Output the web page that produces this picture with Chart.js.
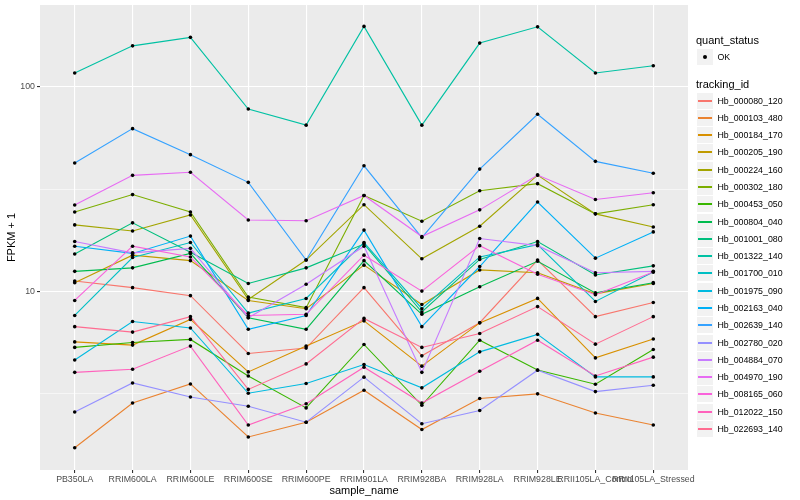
<!DOCTYPE html>
<html><head><meta charset="utf-8">
<script src="https://cdn.jsdelivr.net/npm/chart.js@4/dist/chart.umd.min.js"></script>
<style>
html,body{margin:0;padding:0;background:#fff;}
#wrap{position:relative;width:800px;height:500px;overflow:hidden;}
canvas{position:absolute;left:0;top:0;}
#legend{position:absolute;left:696px;top:0;width:104px;height:500px;font-family:"Liberation Sans",Arial,sans-serif;color:#000;}
.ttl{position:absolute;left:0;font-size:11px;line-height:13px;white-space:nowrap;}
.row{position:absolute;left:1px;height:17px;width:103px;}
.key{position:absolute;left:0;top:0;width:16px;height:16px;background:#F2F2F2;}
.ln{position:absolute;left:1px;right:1px;top:7px;height:1.5px;}
.dot{position:absolute;left:6px;top:6px;width:4px;height:4px;border-radius:50%;background:#000;}
.lab{position:absolute;left:20.5px;top:0;line-height:16px;font-size:8.8px;white-space:nowrap;}
</style></head>
<body><div id="wrap"><canvas id="c" width="800" height="500"></canvas><div id="legend"></div></div>
<script>
// ---- data ----
const categories = ["PB350LA","RRIM600LA","RRIM600LE","RRIM600SE","RRIM600PE","RRIM901LA","RRIM928BA","RRIM928LA","RRIM928LE","RRII105LA_Control","RRII105LA_Stressed"];
const trackingIds = ["Hb_000080_120","Hb_000103_480","Hb_000184_170","Hb_000205_190","Hb_000224_160","Hb_000302_180","Hb_000453_050","Hb_000804_040","Hb_001001_080","Hb_001322_140","Hb_001700_010","Hb_001975_090","Hb_002163_040","Hb_002639_140","Hb_002780_020","Hb_004884_070","Hb_004970_190","Hb_008165_060","Hb_012022_150","Hb_022693_140"];
const seriesColors = ["#F8766D","#EA8331","#D89000","#C09B00","#A3A500","#7CAE00","#39B600","#00BB4E","#00BF7D","#00C1A3","#00BFC4","#00BAE0","#00B0F6","#35A2FF","#9590FF","#C77CFF","#E76BF3","#FA62DB","#FF62BC","#FF6C91"];

const Hb_000080_120 = [11.2, 10.4, 9.5, 4.95, 5.26, 10.4, 4.82, 7.0, 14.2, 7.5, 8.8];
const Hb_000103_480 = [1.71, 2.83, 3.51, 1.93, 2.28, 3.27, 2.10, 2.98, 3.14, 2.53, 2.21];
const Hb_000184_170 = [5.64, 5.44, 7.27, 4.02, 5.38, 7.15, 4.29, 6.99, 9.21, 4.71, 5.83];
const Hb_000205_190 = [11.0, 15.0, 14.1, 9.0, 8.2, 13.4, 8.6, 12.7, 12.3, 9.7, 10.9];
const Hb_000224_160 = [21.1, 19.7, 23.6, 9.1, 14.2, 26.5, 14.4, 20.8, 37.0, 23.9, 20.6];
const Hb_000302_180 = [24.4, 29.7, 24.4, 9.35, 8.3, 29.4, 22.0, 31.0, 33.6, 23.9, 26.5];
const Hb_000453_050 = [5.3, 5.6, 5.8, 3.84, 2.68, 5.48, 2.76, 5.75, 4.11, 3.5, 5.18];
const Hb_000804_040 = [12.5, 13.0, 15.3, 7.4, 6.5, 14.1, 7.7, 10.5, 14.0, 9.8, 11.0];
const Hb_001001_080 = [15.2, 21.6, 15.5, 10.9, 13.0, 17.0, 7.9, 14.3, 17.5, 12.0, 13.3];
const Hb_001322_140 = [117, 159, 175, 78, 65, 198, 65, 164, 197, 117, 127];
const Hb_001700_010 = [7.6, 14.6, 17.3, 7.8, 9.2, 17.3, 8.2, 14.7, 16.9, 8.9, 12.4];
const Hb_001975_090 = [4.6, 7.1, 6.6, 3.16, 3.53, 4.37, 3.36, 5.04, 6.14, 3.8, 3.8];
const Hb_002163_040 = [16.6, 15.3, 18.6, 6.5, 7.6, 19.9, 6.7, 13.2, 27.3, 14.5, 19.5];
const Hb_002639_140 = [42.4, 62.5, 46.6, 34.1, 14.2, 41.1, 18.3, 39.6, 73.5, 43.2, 37.8];
const Hb_002780_020 = [2.56, 3.55, 3.03, 2.73, 2.28, 3.79, 2.24, 2.6, 4.1, 3.22, 3.46];
const Hb_004884_070 = [17.5, 15.4, 16.2, 7.4, 10.8, 16.6, 4.0, 18.1, 16.7, 12.3, 12.5];
const Hb_004970_190 = [26.4, 36.9, 38.2, 22.3, 22.1, 29.4, 18.5, 25.0, 37.0, 28.1, 30.3];
const Hb_008165_060 = [9.0, 16.6, 14.7, 7.6, 7.7, 15.0, 10.0, 16.7, 12.1, 9.6, 12.4];
const Hb_012022_150 = [4.0, 4.14, 5.38, 2.21, 2.81, 4.24, 2.83, 4.05, 5.75, 3.84, 4.75];
const Hb_022693_140 = [6.7, 6.3, 7.5, 3.3, 4.4, 7.35, 5.3, 6.2, 8.4, 5.5, 7.5];

const seriesValues = [Hb_000080_120, Hb_000103_480, Hb_000184_170, Hb_000205_190, Hb_000224_160, Hb_000302_180, Hb_000453_050, Hb_000804_040, Hb_001001_080, Hb_001322_140, Hb_001700_010, Hb_001975_090, Hb_002163_040, Hb_002639_140, Hb_002780_020, Hb_004884_070, Hb_004970_190, Hb_008165_060, Hb_012022_150, Hb_022693_140];

const yTickLabels = [10, 100];          // labelled major breaks
const yMinorBreaks = [3.1623, 31.623];  // minor grid lines
const yMin = 1.33, yMax = 252;
const quantStatus = ["OK"];

// ---- chart ----
const FONT = '"Liberation Sans", Arial, sans-serif';
const lineSets = seriesValues.map((vals, i) => ({
  type: 'line',
  label: trackingIds[i],
  data: vals.map((v, j) => ({x: j, y: v})),
  borderColor: seriesColors[i],
  backgroundColor: seriesColors[i],
  borderWidth: 1.1,
  pointRadius: 0,
  tension: 0,
  fill: false,
  order: -i
}));
const pointSet = {
  type: 'line',
  label: 'points',
  data: seriesValues.flatMap(vals => vals.map((v, j) => ({x: j, y: v}))),
  showLine: false,
  pointRadius: 1.8,
  pointBorderWidth: 0,
  pointBackgroundColor: '#000',
  pointBorderColor: '#000',
  order: -100
};

const bg = {
  id: 'panelBg',
  beforeDraw(chart) {
    const a = chart.chartArea, ctx = chart.ctx;
    ctx.save(); ctx.fillStyle = '#EBEBEB';
    ctx.fillRect(a.left, a.top, a.right - a.left, a.bottom - a.top);
    ctx.restore();
  }
};

new Chart(document.getElementById('c'), {
  data: { datasets: [...lineSets, pointSet] },
  plugins: [bg],
  options: {
    responsive: false,
    animation: false,
    events: [],
    layout: { padding: { top: 5, right: 112, left: 0, bottom: 0 } },
    plugins: { legend: { display: false }, tooltip: { enabled: false } },
    scales: {
      x: {
        type: 'linear', min: -0.6, max: 10.6,
        afterBuildTicks: s => { s.ticks = categories.map((c, i) => ({ value: i })); },
        afterFit: s => { s.height = 30; s.paddingLeft = 0; s.paddingRight = 0; },
        ticks: {
          autoSkip: false, maxRotation: 0, minRotation: 0, padding: 1.5,
          callback: v => categories[v],
          font: { family: FONT, size: 8.8 }, color: '#4D4D4D'
        },
        grid: { color: '#FFFFFF', lineWidth: 1.1, tickColor: '#333333', tickLength: 3, drawTicks: true },
        border: { display: false },
        title: { display: true, text: 'sample_name', font: { family: FONT, size: 11 }, color: '#000', padding: { top: 0, bottom: 2 } }
      },
      y: {
        type: 'logarithmic', min: yMin, max: yMax,
        afterBuildTicks: s => {
          s.ticks = [...yMinorBreaks, ...yTickLabels].sort((a, b) => a - b).map(v => ({ value: v }));
        },
        afterFit: s => { s.width = 40; s.paddingTop = 0; s.paddingBottom = 0; },
        ticks: {
          autoSkip: false, padding: 2,
          callback: v => (yTickLabels.includes(v) ? String(v) : ''),
          font: { family: FONT, size: 8.8 }, color: '#4D4D4D'
        },
        grid: {
          color: '#FFFFFF',
          lineWidth: c => (c.tick && yTickLabels.includes(c.tick.value) ? 1.1 : 0.55),
          tickColor: c => (c.tick && yTickLabels.includes(c.tick.value) ? '#333333' : 'rgba(0,0,0,0)'),
          tickLength: 3, drawTicks: true
        },
        border: { display: false },
        title: { display: true, text: 'FPKM + 1', font: { family: FONT, size: 11 }, color: '#000', padding: { top: 5, bottom: 0 } }
      }
    }
  }
});

// ---- legend (HTML text) ----
const lg = document.getElementById('legend');
function add(html) { lg.insertAdjacentHTML('beforeend', html); }
add('<div class="ttl" style="top:34px">quant_status</div>');
quantStatus.forEach((q, i) => add('<div class="row" style="top:' + Math.round(48.5 + i * 17.28) + 'px"><div class="key"><div class="dot"></div></div><div class="lab">' + q + '</div></div>'));
add('<div class="ttl" style="top:78px">tracking_id</div>');
trackingIds.forEach((t, i) => add('<div class="row" style="top:' + Math.round(92.6 + i * 17.28) + 'px"><div class="key"><div class="ln" style="background:' + seriesColors[i] + '"></div></div><div class="lab">' + t + '</div></div>'));
</script>
</body></html>
